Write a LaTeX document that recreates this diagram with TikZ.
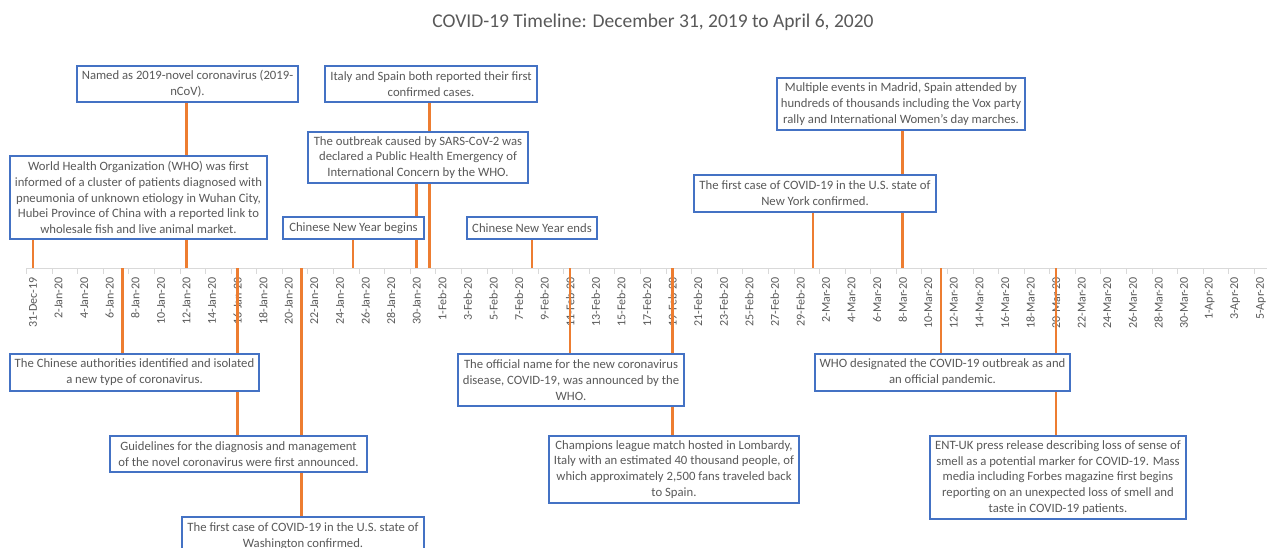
\documentclass[tikz,border=0pt]{standalone}
\usepackage{fontspec}
\setmainfont{Carlito}
\definecolor{boxblue}{HTML}{4472C4}
\definecolor{evorange}{HTML}{ED7D31}
\definecolor{txtgray}{HTML}{595959}
\definecolor{axgray}{HTML}{D9D9D9}
\pgfdeclarelayer{bg}
\pgfdeclarelayer{lines}
\pgfsetlayers{bg,lines,main}
\begin{document}
\begin{tikzpicture}[x=1pt,y=-1pt,
  evbox/.style={draw=boxblue, line width=1.3pt, fill=white, text=txtgray, align=center,
    font=\fontsize{12.7}{15.8}\selectfont, inner sep=0pt},
  sz/.style 2 args={minimum width=#1pt, minimum height=#2pt},
  evline/.style={draw=evorange, line width=2.5pt},
  ticklab/.style={rotate=90, anchor=east, text=txtgray, font=\fontsize{12}{12}\selectfont, inner sep=0pt},
  axisline/.style={draw=axgray, line width=1pt},
  titlestyle/.style={text=txtgray, font=\fontsize{19.5}{22}\selectfont, inner sep=0pt}]
\useasboundingbox (0,0) rectangle (1270,548);
\clip (0,0) rectangle (1270,548);

\node[titlestyle] (title) at (653,22) {COVID-19 Timeline: December 31, 2019 to April 6, 2020};

% axis
\begin{pgfonlayer}{bg}
\fill[white] (0,0) rectangle (1270,548);
\coordinate (axL) at (26.6,268.5);
\coordinate (axR) at (1267,268.5);
\draw[axisline] (axL) -- (axR);
\foreach \k in {0,...,48} \draw[axisline] ({26.6+25.58*\k},268.5) -- ++(0,6);
\foreach \lab [count=\i from 0] in {31-Dec-19,2-Jan-20,4-Jan-20,6-Jan-20,8-Jan-20,10-Jan-20,12-Jan-20,14-Jan-20,16-Jan-20,18-Jan-20,20-Jan-20,22-Jan-20,24-Jan-20,26-Jan-20,28-Jan-20,30-Jan-20,1-Feb-20,3-Feb-20,5-Feb-20,7-Feb-20,9-Feb-20,11-Feb-20,13-Feb-20,15-Feb-20,17-Feb-20,19-Feb-20,21-Feb-20,23-Feb-20,25-Feb-20,27-Feb-20,29-Feb-20,2-Mar-20,4-Mar-20,6-Mar-20,8-Mar-20,10-Mar-20,12-Mar-20,14-Mar-20,16-Mar-20,18-Mar-20,20-Mar-20,22-Mar-20,24-Mar-20,26-Mar-20,28-Mar-20,30-Mar-20,1-Apr-20,3-Apr-20,5-Apr-20}
  \node[ticklab] (lab\i) at ({33+25.58*\i},277) {\lab};
\end{pgfonlayer}

% event dates on the axis
\coordinate (tWHO) at ({33+12.79*0},268.5);
\coordinate (tAuth) at ({33+12.79*7},268.5);
\coordinate (tNamed) at ({33+12.79*12},268.5);
\coordinate (tGuide) at ({33+12.79*16},268.5);
\coordinate (tWash) at ({33+12.79*21},268.5);
\coordinate (tCNYb) at ({33+12.79*25},268.5);
\coordinate (tPHEIC) at ({33+12.79*30},268.5);
\coordinate (tItaly) at ({33+12.79*31},268.5);
\coordinate (tCNYe) at ({33+12.79*39},268.5);
\coordinate (tName) at ({33+12.79*42},268.5);
\coordinate (tChamp) at ({33+12.79*50},268.5);
\coordinate (tNY) at ({33+12.79*61},268.5);
\coordinate (tMadrid) at ({33+12.79*68},268.5);
\coordinate (tPand) at ({33+12.79*71},268.5);
\coordinate (tENT) at ({33+12.79*80},268.5);

% boxes above the axis
\node[evbox, sz={221}{36}] (named) at (187.5,84) {Named as 2019-novel coronavirus (2019-\\nCoV).};
\node[evbox, sz={257}{83}] (who) at (138.5,197.5) {World Health Organization (WHO) was first\\informed of a cluster of patients diagnosed with\\pneumonia of unknown etiology in Wuhan City,\\Hubei Province of China with a reported link to\\wholesale fish and live animal market.};
\node[evbox, sz={212}{36}] (italy) at (431,84) {Italy and Spain both reported their first\\confirmed cases.};
\node[evbox, sz={220}{51}] (pheic) at (418,157.5) {The outbreak caused by SARS-CoV-2 was\\declared a Public Health Emergency of\\International Concern by the WHO.};
\node[evbox, sz={141}{22}] (cnyb) at (353.5,228) {Chinese New Year begins};
\node[evbox, sz={130}{22}] (cnye) at (532,228) {Chinese New Year ends};
\node[evbox, sz={242}{37}] (ny) at (815,193.5) {The first case of COVID-19 in the U.S. state of\\New York confirmed.};
\node[evbox, sz={248}{52}] (madrid) at (901,104) {Multiple events in Madrid, Spain attended by\\hundreds of thousands including the Vox party\\rally and International Women’s day marches.};

% boxes below the axis
\node[evbox, sz={249}{37}] (auth) at (134.5,372.5) {The Chinese authorities identified and isolated\\a new type of coronavirus.};
\node[evbox, sz={257}{36}] (guide) at (238.5,454) {Guidelines for the diagnosis and management\\of the novel coronavirus were first announced.};
\node[evbox, sz={242}{38}] (wash) at (303,536) {The first case of COVID-19 in the U.S. state of\\Washington confirmed.};
\node[evbox, sz={226}{52}] (offname) at (571,380) {The official name for the new coronavirus\\disease, COVID-19, was announced by the\\WHO.};
\node[evbox, sz={250}{67}] (champ) at (674,469.5) {Champions league match hosted in Lombardy,\\Italy with an estimated 40 thousand people, of\\which approximately 2,500 fans traveled back\\to Spain.};
\node[evbox, sz={255}{37}] (pand) at (942.5,372.5) {WHO designated the COVID-19 outbreak as and\\an official pandemic.};
\node[evbox, sz={256}{83}] (ent) at (1058,477.5) {ENT-UK press release describing loss of sense of\\smell as a potential marker for COVID-19. Mass\\media including Forbes magazine first begins\\reporting on an unexpected loss of smell and\\taste in COVID-19 patients.};

% connectors
\begin{pgfonlayer}{lines}
\draw[evline] (tWHO |- who.south) -- (tWHO);
\draw[evline] (tNamed |- named.south) -- (tNamed);
\draw[evline] (tCNYb |- cnyb.south) -- (tCNYb);
\draw[evline] (tPHEIC |- pheic.south) -- (tPHEIC);
\draw[evline] (tItaly |- italy.south) -- (tItaly);
\draw[evline] (tCNYe |- cnye.south) -- (tCNYe);
\draw[evline] (tNY |- ny.south) -- (tNY);
\draw[evline] (tMadrid |- madrid.south) -- (tMadrid);
\draw[evline] (tAuth) -- (tAuth |- auth.north);
\draw[evline] (tGuide) -- (tGuide |- guide.north);
\draw[evline] (tWash) -- (tWash |- wash.north);
\draw[evline] (tName) -- (tName |- offname.north);
\draw[evline] (tChamp) -- (tChamp |- champ.north);
\draw[evline] (tPand) -- (tPand |- pand.north);
\draw[evline] (tENT) -- (tENT |- ent.north);
\end{pgfonlayer}
\end{tikzpicture}
\end{document}
